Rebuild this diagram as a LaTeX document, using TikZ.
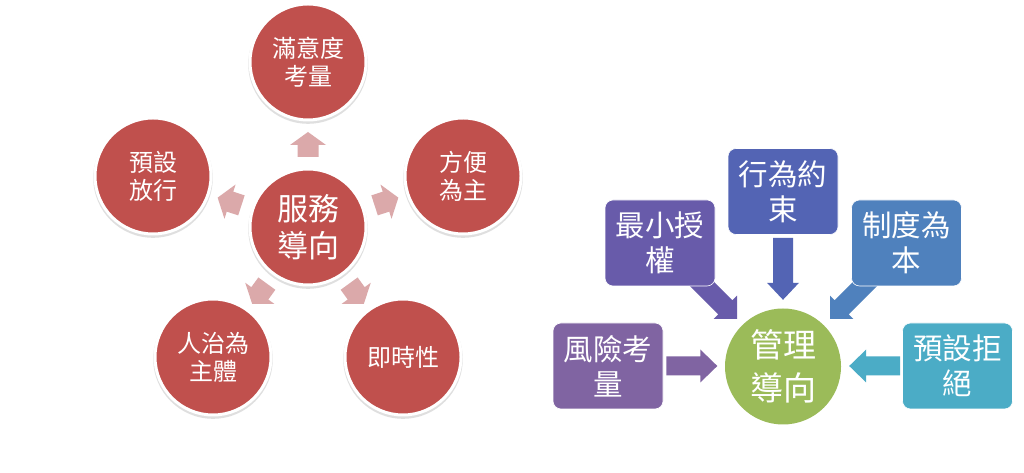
\documentclass[tikz,border=0pt]{standalone}
\usepackage{fontspec}
\setmainfont{Noto Sans CJK TC}
\usetikzlibrary{shadows,calc}
\definecolor{cred}{RGB}{192,80,77}
\definecolor{cpink}{RGB}{219,169,170}
\definecolor{cgreen}{RGB}{155,187,89}
\definecolor{cviolet}{RGB}{128,100,162}
\definecolor{cpurple}{RGB}{104,91,170}
\definecolor{cindigo}{RGB}{83,100,180}
\definecolor{cblue}{RGB}{79,129,189}
\definecolor{caqua}{RGB}{75,172,198}
% #1 origin, #2 angle, #3 start, #4 tip, #5 shaft half, #6 head half, #7 head length, #8 style
\newcommand{\blockarr}[8]{%
  \begin{scope}[shift={(#1)}, rotate=#2]
    \fill[#8] (#3,-#5) -- ({#4-#7},-#5) -- ({#4-#7},-#6) -- (#4,0) -- ({#4-#7},#6) -- ({#4-#7},#5) -- (#3,#5) -- cycle;
  \end{scope}}
\tikzset{
  redcirc/.style={circle, fill=cred, draw=white, line width=3pt, minimum size=116pt, inner sep=0pt,
    text=white, align=center, font=\fontsize{24}{28}\selectfont,
    drop shadow={shadow xshift=0pt, shadow yshift=-2pt, shadow scale=1.03, opacity=0.25}},
  rbox/.style={rounded corners=8pt, minimum width=110pt, minimum height=86pt, inner sep=0pt,
    text=white, align=center, font=\fontsize{29.5}{35}\selectfont, draw=white, line width=0.6pt},
}
\begin{document}
\begin{tikzpicture}[x=1pt,y=1pt]
\useasboundingbox[fill=white] (0,0) rectangle (1024,473);
% ---------- left: service oriented ----------
\node[redcirc, font=\fontsize{31}{37}\selectfont] (C) at (308,246) {服務\\導向};
\node[redcirc] (T)  at (308,411) {滿意度\\考量};
\node[redcirc] (UL) at (153,297) {預設\\放行};
\node[redcirc] (UR) at (463,297) {方便\\為主};
\node[redcirc] (LL) at (213,116) {人治為\\主體};
\node[redcirc] (LR) at (403,116) {即時性};
\blockarr{C}{90}{70}{95}{10.5}{18}{13}{cpink}
\blockarr{C}{18}{70}{95}{10.5}{18}{13}{cpink}
\blockarr{C}{-54}{70}{95}{10.5}{18}{13}{cpink}
\blockarr{C}{-126}{70}{95}{10.5}{18}{13}{cpink}
\blockarr{C}{162}{70}{95}{10.5}{18}{13}{cpink}
% ---------- right: management oriented ----------
\coordinate (Mc) at (783,106.5);
\coordinate (TipL) at (737,154);
\coordinate (TipR) at (830,154);
\blockarr{TipL}{-45}{-70}{0}{10}{16.5}{16.5}{cpurple}
\blockarr{TipR}{-135}{-70}{0}{10}{16.5}{16.5}{cblue}
\node[rbox, fill=cpurple] (B2) at (660,230) {最小授\\權};
\node[rbox, fill=cindigo] (B3) at (783,281.5) {行為約\\束};
\node[rbox, fill=cblue] (B4) at (906.5,230) {制度為\\本};
\node[rbox, fill=cviolet] (B1) at (608,107) {風險考\\量};
\node[rbox, fill=caqua] (B5) at (957.5,107) {預設拒\\絕};
\node[circle, fill=cgreen, minimum size=116pt, inner sep=0pt, text=white, align=center,
  font=\fontsize{33}{43}\selectfont] (M) at (Mc) {管理\\導向};
\blockarr{B3.south}{-90}{3}{65}{10}{16}{17}{cindigo}
\blockarr{B1.east}{0}{3}{54}{9.5}{16.5}{17}{cviolet}
\blockarr{B5.west}{180}{2}{53}{9.5}{16.5}{17}{caqua}
\end{tikzpicture}
\end{document}
